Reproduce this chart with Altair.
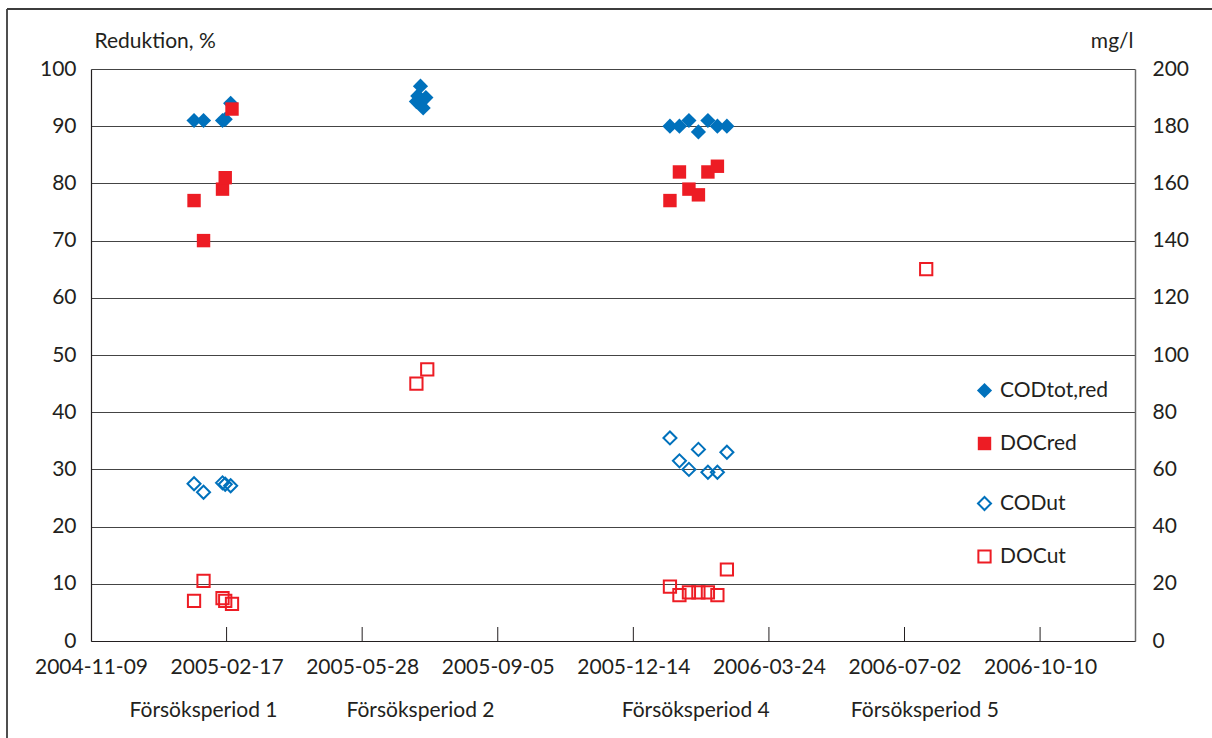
import altair as alt
import pandas as pd

BLUE = "#0071bc"
RED = "#ed1c24"
INK = "#231f20"
GRID = "#444444"
FONT = "Lato"
FS = 21

# --- Reduction series (left axis, %) -------------------------------------
codtot_red_dates = [
    "2005-01-24", "2005-01-31", "2005-02-14", "2005-02-16", "2005-02-20",
    "2005-07-07", "2005-07-08", "2005-07-10", "2005-07-11", "2005-07-12", "2005-07-14",
    "2006-01-10", "2006-01-17", "2006-01-24", "2006-01-31", "2006-02-07", "2006-02-14", "2006-02-21",
]
codtot_red_vals = [
    91.0, 91.0, 91.0, 91.2, 94.0,
    94.3, 95.3, 97.0, 94.5, 93.2, 95.0,
    90.0, 90.0, 91.0, 89.0, 91.0, 90.0, 90.0,
]

docred_dates = [
    "2005-01-24", "2005-01-31", "2005-02-14", "2005-02-16", "2005-02-21",
    "2006-01-10", "2006-01-17", "2006-01-24", "2006-01-31", "2006-02-07", "2006-02-14",
]
docred_vals = [77.0, 70.0, 79.0, 81.0, 93.0, 77.0, 82.0, 79.0, 78.0, 82.0, 83.0]

# --- Outlet concentrations (right axis, mg/l) ----------------------------
codut_dates = [
    "2005-01-24", "2005-01-31", "2005-02-14", "2005-02-16", "2005-02-20",
    "2006-01-10", "2006-01-17", "2006-01-24", "2006-01-31", "2006-02-07", "2006-02-14", "2006-02-21",
]
codut_vals = [55.0, 52.0, 55.3, 54.8, 54.3, 71.0, 63.0, 60.0, 67.0, 59.0, 59.0, 66.0]

docut_dates = [
    "2005-01-24", "2005-01-31", "2005-02-14", "2005-02-16", "2005-02-21",
    "2005-07-07", "2005-07-15",
    "2006-01-10", "2006-01-17", "2006-01-24", "2006-01-31", "2006-02-07", "2006-02-14", "2006-02-21",
    "2006-07-18",
]
docut_vals = [14.0, 21.0, 15.0, 14.0, 13.0, 90.0, 95.0,
              19.0, 16.0, 17.0, 17.0, 17.0, 16.0, 25.0, 130.0]

# --- Axis ticks and period labels -----------------------------------------
tick_dates = ["2004-11-09", "2005-02-17", "2005-05-28", "2005-09-05",
              "2005-12-14", "2006-03-24", "2006-07-02", "2006-10-10"]
period_labels = ["Försöksperiod 1", "Försöksperiod 2", "Försöksperiod 4", "Försöksperiod 5"]
period_dates = ["2005-01-31", "2005-07-10", "2006-01-29", "2006-07-17"]

red_series = ["CODtot,red", "DOCred"]
out_series = ["CODut", "DOCut"]

pct = pd.concat([
    pd.DataFrame({"date": codtot_red_dates, "value": codtot_red_vals, "serie": "CODtot,red"}),
    pd.DataFrame({"date": docred_dates, "value": docred_vals, "serie": "DOCred"}),
], ignore_index=True)
mgl = pd.concat([
    pd.DataFrame({"date": codut_dates, "value": codut_vals, "serie": "CODut"}),
    pd.DataFrame({"date": docut_dates, "value": docut_vals, "serie": "DOCut"}),
], ignore_index=True)
ticks = pd.DataFrame({"date": tick_dates[1:]})
periods = pd.DataFrame({"date": period_dates, "label": period_labels})


def dt(s):
    y, m, d = (int(p) for p in s.split("-"))
    return alt.DateTime(year=y, month=m, date=d, utc=True)


x_enc = alt.X(
    "date:T",
    title=None,
    scale=alt.Scale(type="utc", domain=[dt("2004-11-09"), dt("2006-12-19")]),
    axis=alt.Axis(
        values=[dt(s) for s in tick_dates],
        labelExpr="utcFormat(datum.value, '%Y-%m-%d')",
        ticks=False, grid=False, labelOverlap=False, labelFlush=False, labelBound=False,
        labelPadding=15, labelFontSize=FS, labelColor=INK, labelFont=FONT,
        domainColor=INK, domainWidth=1.2,
    ),
)


def legend(x, y, row_pad, stroke_w):
    return alt.Legend(
        title=None, orient="none", legendX=x, legendY=y, direction="vertical",
        rowPadding=row_pad, labelFontSize=FS, labelFont=FONT, labelColor=INK,
        labelOffset=5, padding=0, symbolStrokeWidth=stroke_w,
    )


leg_red = legend(883, 311, 31, 0)
leg_out = legend(883, 424, 30, 2)

reduction = alt.Chart(pct).mark_point(filled=True, opacity=1).encode(
    x=x_enc,
    y=alt.Y(
        "value:Q",
        scale=alt.Scale(domain=[0, 100], nice=False, zero=True),
        axis=alt.Axis(
            orient="left", values=list(range(0, 101, 10)), title="Reduktion, %",
            titleAngle=0, titleAlign="left", titleBaseline="middle", titleX=3, titleY=-28,
            titleFontSize=FS, titleFontWeight="normal", titleFont=FONT, titleColor=INK,
            labelFontSize=FS, labelFont=FONT, labelColor=INK, labelPadding=15,
            ticks=False, grid=True, gridColor=GRID, gridWidth=1.1,
            domainColor=INK, domainWidth=1.2,
        ),
    ),
    color=alt.Color("serie:N", scale=alt.Scale(domain=red_series, range=[BLUE, RED]), legend=leg_red),
    shape=alt.Shape("serie:N", scale=alt.Scale(domain=red_series, range=["diamond", "square"]), legend=leg_red),
    size=alt.Size("serie:N", scale=alt.Scale(domain=red_series, range=[230, 180]), legend=leg_red),
    order=alt.Order("serie:N", sort="ascending"),
)

outlet = alt.Chart(mgl).mark_point(filled=False, strokeWidth=2, opacity=1).encode(
    x=x_enc,
    y=alt.Y(
        "value:Q",
        scale=alt.Scale(domain=[0, 200], nice=False, zero=True),
        axis=alt.Axis(
            orient="right", values=list(range(0, 201, 20)), title="mg/l",
            titleAngle=0, titleAlign="right", titleBaseline="middle", titleX=-2, titleY=-28,
            titleFontSize=FS, titleFontWeight="normal", titleFont=FONT, titleColor=INK,
            labelFontSize=FS, labelFont=FONT, labelColor=INK, labelPadding=17,
            ticks=False, grid=False, domainColor="#6b6b6b", domainWidth=1.5,
        ),
    ),
    color=alt.Color("serie:N", scale=alt.Scale(domain=out_series, range=[BLUE, RED]), legend=leg_out),
    shape=alt.Shape("serie:N", scale=alt.Scale(domain=out_series, range=["diamond", "square"]), legend=leg_out),
    size=alt.Size("serie:N", scale=alt.Scale(domain=out_series, range=[170, 150]), legend=leg_out),
)

# inward tick marks on the time axis
tick_marks = alt.Chart(ticks).mark_rule(color=INK, strokeWidth=1).encode(
    x=x_enc, y=alt.value(558), y2=alt.value(572)
)

period_text = alt.Chart(periods).mark_text(
    font=FONT, fontSize=FS, color=INK, align="center", baseline="middle"
).encode(x=x_enc, y=alt.value(642), text="label:N")

# thin outer frame (top and left edges)
one = pd.DataFrame({"k": [0]})
frame_left = alt.Chart(one).mark_rule(color="#3c3c3c", strokeWidth=1.8).encode(
    x=alt.value(-84), y=alt.value(-60), y2=alt.value(669)
)
frame_top = alt.Chart(one).mark_rule(color="#3c3c3c", strokeWidth=1.8).encode(
    x=alt.value(-84), x2=alt.value(1121), y=alt.value(-60)
)

chart = (
    alt.layer(tick_marks, reduction, outlet, period_text, frame_left, frame_top)
    .resolve_scale(y="independent", color="independent", shape="independent", size="independent")
    .properties(
        width=1044, height=572,
        autosize=alt.AutoSizeParams(type="none"),
        padding={"left": 91, "top": 69, "right": 77, "bottom": 97},
        background="white",
    )
    .configure(font=FONT)
    .configure_view(stroke=None)
)

chart.save("out.html", embed_options={"renderer": "svg", "actions": False})
